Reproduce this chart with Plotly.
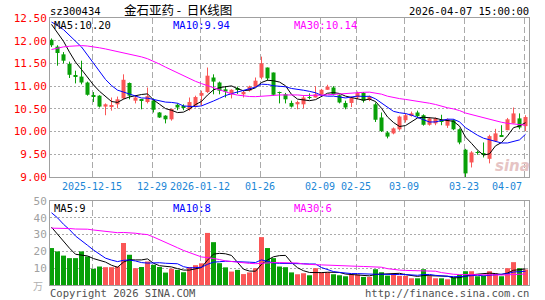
import numpy as np
import plotly.graph_objects as go

# ---------------- data ----------------
n_days = 80
tick_pos = [7, 17, 25, 35, 45, 51, 59, 69, 79]
tick_text = ["2025-12-15", "12-29", "2026-01-12", "01-26", "02-09",
             "02-25", "03-09", "03-23", "04-07"]

open_ = [12.02, 11.87, 11.70, 11.49, 11.24, 11.21, 11.08, 10.80, 10.79, 10.55,
         10.56, 10.60, 10.73, 11.07, 10.68, 10.71, 10.65, 10.68, 10.42, 10.35,
         10.27, 10.59, 10.55, 10.49, 10.57, 10.79, 10.87, 11.19, 11.08, 10.93,
         10.82, 10.94, 10.82, 10.90, 10.99, 11.19, 11.41, 11.30, 10.87, 10.82,
         10.63, 10.60, 10.60, 10.75, 10.75, 10.81, 10.92, 10.97, 10.80, 10.63,
         10.63, 10.75, 10.85, 10.70, 10.60, 10.31, 9.98, 9.96, 10.05, 10.25,
         10.36, 10.42, 10.36, 10.15, 10.18, 10.25, 10.13, 10.25, 10.05, 9.60,
         9.32, 9.55, 9.51, 9.40, 9.79, 9.91, 10.03, 10.18, 10.29, 10.12]
high = [12.05, 11.90, 11.75, 11.54, 11.34, 11.56, 11.10, 10.87, 10.80, 10.62,
        10.75, 10.77, 11.26, 11.08, 10.80, 10.71, 10.97, 10.73, 10.43, 10.36,
        10.49, 10.62, 10.60, 10.75, 10.79, 10.90, 11.41, 11.26, 11.10, 11.00,
        10.93, 10.99, 10.90, 11.01, 11.19, 11.65, 11.41, 11.30, 10.88, 10.85,
        10.68, 10.68, 10.80, 10.84, 11.00, 10.94, 11.03, 11.00, 10.82, 10.68,
        10.77, 10.88, 10.87, 10.79, 10.64, 10.42, 10.01, 10.09, 10.35, 10.40,
        10.44, 10.46, 10.38, 10.31, 10.31, 10.37, 10.29, 10.27, 10.07, 9.62,
        9.57, 9.58, 9.76, 9.93, 10.06, 10.14, 10.30, 10.53, 10.40, 10.36]
low = [11.86, 11.45, 11.50, 11.18, 11.06, 11.04, 10.79, 10.65, 10.53, 10.36,
       10.46, 10.51, 10.71, 10.71, 10.62, 10.49, 10.62, 10.42, 10.30, 10.18,
       10.24, 10.47, 10.47, 10.46, 10.53, 10.57, 10.85, 10.82, 10.82, 10.75,
       10.73, 10.83, 10.75, 10.88, 10.98, 11.15, 11.12, 10.79, 10.62, 10.62,
       10.53, 10.49, 10.51, 10.71, 10.75, 10.79, 10.92, 10.80, 10.62, 10.49,
       10.54, 10.71, 10.64, 10.67, 10.21, 9.99, 9.85, 9.94, 10.02, 10.20,
       10.33, 10.30, 10.13, 10.13, 10.14, 10.14, 10.08, 10.03, 9.72, 8.99,
       9.21, 9.49, 9.43, 9.30, 9.77, 9.89, 10.03, 10.18, 10.05, 10.01]
close = [11.90, 11.73, 11.56, 11.25, 11.21, 11.08, 10.81, 10.78, 10.55, 10.60,
         10.57, 10.71, 11.14, 10.79, 10.75, 10.69, 10.78, 10.48, 10.31, 10.27,
         10.50, 10.53, 10.53, 10.65, 10.76, 10.85, 11.23, 11.10, 10.90, 10.88,
         10.92, 10.92, 10.87, 10.99, 11.12, 11.50, 11.17, 10.81, 10.85, 10.71,
         10.55, 10.65, 10.75, 10.74, 10.82, 10.92, 10.99, 10.82, 10.64, 10.53,
         10.75, 10.85, 10.68, 10.77, 10.26, 10.01, 9.89, 10.07, 10.33, 10.36,
         10.40, 10.34, 10.15, 10.29, 10.29, 10.23, 10.27, 10.05, 9.76, 9.08,
         9.54, 9.53, 9.50, 9.90, 9.96, 9.90, 10.27, 10.40, 10.09, 10.32]
volume = [22, 20, 17.5, 16, 16, 20, 17, 9.6, 11, 10.6,
          10.6, 11, 25, 18, 10, 10.7, 14, 12, 10.7, 7.4,
          9.7, 9, 7.6, 10.7, 11.8, 12.9, 31, 25.5, 13, 10.5,
          8, 9, 6.5, 7.5, 10, 28.5, 22, 16, 11, 10.6,
          7.5, 6.4, 7, 5.8, 10, 7.6, 7.6, 6.4, 5.8, 5.2,
          6.2, 6.2, 4.8, 4.8, 9.4, 7.6, 5.6, 6.8, 5.4, 5.4,
          4, 4, 9.4, 5.2, 4, 4, 3.4, 4.6, 6, 8.2,
          8.2, 5.2, 5.6, 8.2, 6.8, 5.2, 10, 13.6, 10, 9.2]
# sessions before the visible window (estimated, needed for the moving averages)
pre_close = [10.80, 10.75, 10.85, 10.90, 10.95, 11.10, 11.20, 11.30, 11.35, 11.45,
             11.55, 11.60, 11.70, 11.75, 11.85, 12.00, 12.10, 12.20, 12.30, 12.40,
             12.45, 12.50, 12.55, 12.45, 12.35, 12.60, 12.55, 12.45, 12.30]
pre_volume = [20, 22, 18, 25, 21, 19, 24, 23, 20, 22, 26, 21, 19, 23, 25, 24,
              55, 62, 58, 58, 50, 56, 48, 54, 50, 42, 38, 36, 34]

# ---------------- derived ----------------
idx = np.arange(n_days)
o = np.array(open_); h = np.array(high); l = np.array(low); c = np.array(close)
v = np.array(volume, dtype=float)
allc = np.concatenate([pre_close, c])
allv = np.concatenate([pre_volume, v])
npre = len(pre_close)


def ma(arr, n):
    out = []
    for k in range(npre, len(arr)):
        out.append(arr[k - n + 1:k + 1].mean())
    return np.array(out)


ma5, ma10, ma30 = ma(allc, 5), ma(allc, 10), ma(allc, 30)
vma5, vma10, vma30 = ma(allv, 5), ma(allv, 10), ma(allv, 30)

RED = "#fa5656"
GREEN = "#08a008"
up = c >= o
colors = [RED if u else GREEN for u in up]

MONO = "DejaVu Sans Mono"
NB = "\u00a0"
W, H = 545, 300
L, R, T, B = 50, 16, 18, 15
PW, PH = W - L - R, H - T - B
main_bottom_px, vol_top_px = 177, 201


def px2paper(x, y):
    return (x - L) / PW, (H - B - y) / PH


fig = go.Figure()

# wicks
for col, mask in ((RED, up), (GREEN, ~up)):
    xs, ys = [], []
    for i in idx[mask]:
        xs += [i, i, None]
        ys += [l[i], h[i], None]
    fig.add_trace(go.Scatter(x=xs, y=ys, mode="lines", line=dict(color=col, width=1),
                             hoverinfo="skip", showlegend=False, xaxis="x", yaxis="y"))

# bodies
body = np.maximum(np.abs(c - o), 0.02)
fig.add_trace(go.Bar(x=idx, y=body, base=np.minimum(o, c), width=0.67,
                     marker=dict(color=colors, line=dict(width=0)),
                     showlegend=False, xaxis="x", yaxis="y"))

# price MAs
for series, col in ((ma5, "#000000"), (ma10, "#0000ff"), (ma30, "#ff00ff")):
    fig.add_trace(go.Scatter(x=idx, y=series, mode="lines", line=dict(color=col, width=1),
                             showlegend=False, xaxis="x", yaxis="y"))

# volume
fig.add_trace(go.Bar(x=idx, y=v, width=0.83, marker=dict(color=colors, line=dict(width=0)),
                     showlegend=False, xaxis="x2", yaxis="y2"))
for series, col in ((vma5, "#000000"), (vma10, "#0000ff"), (vma30, "#ff00ff")):
    fig.add_trace(go.Scatter(x=idx, y=series, mode="lines", line=dict(color=col, width=1),
                             showlegend=False, xaxis="x2", yaxis="y2"))

xr = [-0.25, n_days - 1 + 0.58]
grid_v = dict(showgrid=True, gridcolor="#aaaaaa", gridwidth=1, griddash="6px,3px")
grid_h = dict(showgrid=True, gridcolor="#aaaaaa", gridwidth=1, griddash="2px,2px")
line_box = dict(showline=True, linecolor="#a0a0a0", linewidth=1, mirror=True,
                automargin=False)

price_ticks = [9.0 + 0.5 * k for k in range(8)]
vol_ticks = [10, 20, 30, 40, 50]
main_dom_lo = (H - B - main_bottom_px) / PH
vol_dom_hi = (H - B - vol_top_px) / PH

DATE_COLOR = "#1b86d6"
# the last date label is drawn separately, right-aligned at its grid line
shown_ticks = tick_text[:-1] + [""]

fig.update_layout(
    width=W, height=H, margin=dict(l=L, r=R, t=T, b=B, pad=0, autoexpand=False),
    paper_bgcolor="white", plot_bgcolor="white", barmode="overlay",
    showlegend=False,
    xaxis=dict(domain=[0, 1], range=xr, tickmode="array",
               tickvals=[p - 0.25 for p in tick_pos], ticktext=shown_ticks,
               tickangle=0,
               tickfont=dict(family=MONO, size=10, color=DATE_COLOR),
               ticks="", zeroline=False, anchor="y", **grid_v, **line_box),
    yaxis=dict(domain=[main_dom_lo, 1], range=[9.0, 12.5], tickmode="array",
               tickvals=price_ticks, ticktext=[f"{t:.2f}" for t in price_ticks],
               tickfont=dict(family=MONO, size=11, color="#ff0000"),
               ticks="", zeroline=False, anchor="x", **grid_h, **line_box),
    xaxis2=dict(domain=[0, 1], range=xr, tickmode="array",
                tickvals=[p - 0.25 for p in tick_pos], showticklabels=False,
                ticks="", zeroline=False, anchor="y2", **grid_v, **line_box),
    yaxis2=dict(domain=[0, vol_dom_hi], range=[0, 50], tickmode="array",
                tickvals=vol_ticks, ticktext=[str(t) for t in vol_ticks],
                tickfont=dict(family=MONO, size=11, color="#a0a0a0"),
                ticks="", zeroline=False, anchor="x2", **grid_h, **line_box),
)


def note(text, x, y, anchor="left", color="#000000", size=10.5, family=MONO, **kw):
    xp, yp = px2paper(x, y)
    fig.add_annotation(text=text, x=xp, y=yp, xref="paper", yref="paper",
                       xanchor=anchor, yanchor="middle", showarrow=False, borderpad=0,
                       font=dict(family=family, size=size, color=color), **kw)


note("sz300434", 49, 11)
note("金石亚药" + NB + "-" + NB + NB + "日K线图", 178, 9.5, anchor="center",
     family="Noto Sans CJK SC", size=12.5)
note("2026-04-07 15:00:00", 530, 11, anchor="right")
note(f"MA5:{ma5[-1]:.2f}", 53, 25)
note(f"MA10:{ma10[-1]:.2f}", 172, 25, color="#0000ff")
note(f"MA30:{ma30[-1]:.2f}", 293, 25, color="#ff00ff")
note(f"MA5:{int(vma5[-1])}", 53, 207.5)
note(f"MA10:{int(vma10[-1])}", 172, 207.5, color="#0000ff")
note(f"MA30:{int(vma30[-1])}", 293, 207.5, color="#ff00ff")
note(tick_text[-1], 523, 186, anchor="right", color=DATE_COLOR, size=10)
note("万", 44, 285, anchor="right", color="#b0b0b0", family="Noto Sans CJK SC", size=10)
note("Copyright 2026 SINA.COM", 49, 293, color="#505050")
note("http://finance.sina.com.cn", 530, 293, anchor="right", color="#505050")
note("<b><i>sina</i></b>", 512, 166, anchor="center", color="#e6c4c4",
     family="DejaVu Sans", size=15)

fig.write_html("out.html")
